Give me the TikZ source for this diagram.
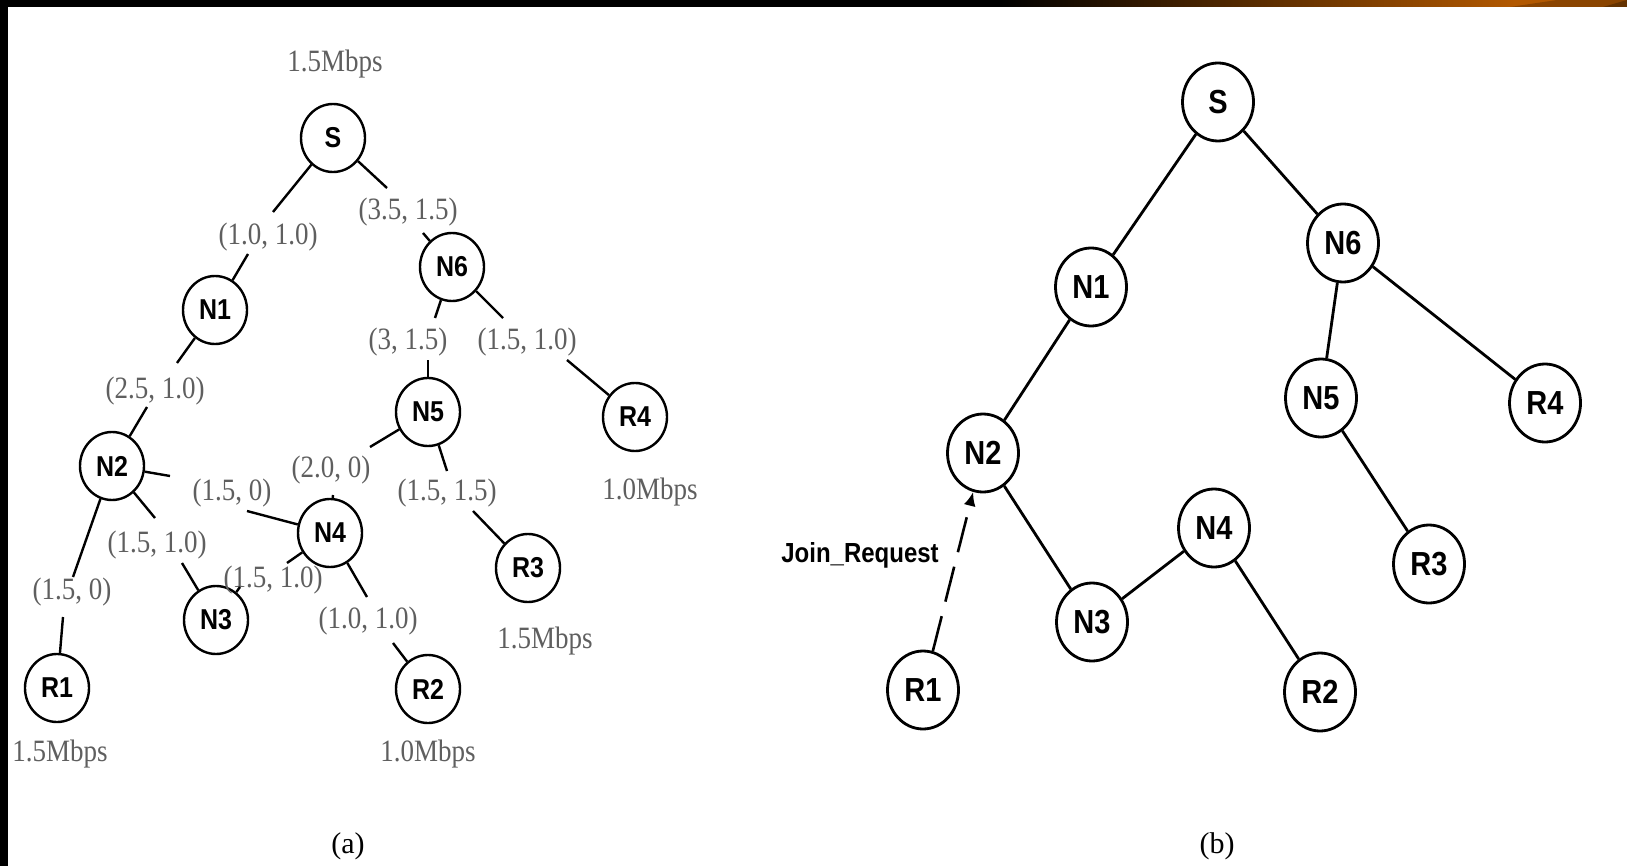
\documentclass[tikz,border=0pt]{standalone}
\usepackage{fontspec}
\setmainfont{Liberation Serif}
\newfontfamily\sansfont{Liberation Sans}
\usepackage{graphicx}
\usetikzlibrary{shapes.geometric,arrows.meta}
\definecolor{lblgray}{RGB}{95,95,95}
\definecolor{barorange}{RGB}{178,88,0}
\definecolor{bardark}{RGB}{138,68,0}
\definecolor{bardarker}{RGB}{100,50,0}
\newcommand{\vstretch}[1]{\scalebox{1}[1.15]{#1}}
\begin{document}
\begin{tikzpicture}[x=0.5pt,y=-0.5pt,
  anode/.style={ellipse,draw,line width=1.2pt,minimum width=32pt,minimum height=34pt,inner sep=0pt,
    font=\sansfont\bfseries\fontsize{12.5pt}{14pt}\selectfont},
  bnode/.style={ellipse,draw,line width=1.4pt,minimum width=35.5pt,minimum height=39pt,inner sep=0pt,
    font=\sansfont\bfseries\fontsize{14.5pt}{16pt}\selectfont},
  aedge/.style={line width=1.2pt},
  bedge/.style={line width=1.4pt},
  elabel/.style={text=lblgray,inner sep=0pt,font=\fontsize{13.5pt}{15pt}\selectfont},
  caption/.style={inner sep=0pt,font=\fontsize{15pt}{17pt}\selectfont}]
\useasboundingbox (0,0) rectangle (1627,866);
\fill[white] (0,0) rectangle (1627,866);
% frame
\fill[black] (0,0) rectangle (8,866);
\fill[black] (0,0) rectangle (1627,7);
\shade[left color=black,right color=barorange] (1000,0) rectangle (1515,7);
\fill[barorange] (1514,0) rectangle (1627,7);
\fill[bardark] (1557,0) -- (1627,0) -- (1627,7) -- (1510,7) -- cycle;
\fill[bardarker] (1627,0) -- (1627,7) -- (1603,7) -- cycle;

% ---------------- panel (a) ----------------
\node[anode] (aS)  at (333,138) {\vstretch{S}};
\node[anode] (aN6) at (452,267) {\vstretch{N6}};
\node[anode] (aN1) at (215,310) {\vstretch{N1}};
\node[anode] (aN5) at (428,412) {\vstretch{N5}};
\node[anode] (aR4) at (635,417) {\vstretch{R4}};
\node[anode] (aN2) at (112,466) {\vstretch{N2}};
\node[anode] (aN4) at (330,533) {\vstretch{N4}};
\node[anode] (aR3) at (528,568) {\vstretch{R3}};
\node[anode] (aN3) at (216,620) {\vstretch{N3}};
\node[anode] (aR1) at (57,688)  {\vstretch{R1}};
\node[anode] (aR2) at (428,689) {\vstretch{R2}};

\node[elabel] (mS)  at (335,64)  {\vstretch{1.5Mbps}};
\node[elabel] (mR4) at (650,492) {\vstretch{1.0Mbps}};
\node[elabel] (mR3) at (545,641) {\vstretch{1.5Mbps}};
\node[elabel] (mR1) at (60,754)  {\vstretch{1.5Mbps}};
\node[elabel] (mR2) at (428,754) {\vstretch{1.0Mbps}};

\node[elabel] (l1)  at (268,237) {\vstretch{(1.0, 1.0)}};
\node[elabel] (l2)  at (408,212) {\vstretch{(3.5, 1.5)}};
\node[elabel] (l3)  at (155,391) {\vstretch{(2.5, 1.0)}};
\node[elabel] (l4)  at (408,342) {\vstretch{(3, 1.5)}};
\node[elabel] (l5)  at (527,342) {\vstretch{(1.5, 1.0)}};
\node[elabel] (l6)  at (331,470) {\vstretch{(2.0, 0)}};
\node[elabel] (l7)  at (447,493) {\vstretch{(1.5, 1.5)}};
\node[elabel] (l8)  at (232,493) {\vstretch{(1.5, 0)}};
\node[elabel] (l9)  at (157,545) {\vstretch{(1.5, 1.0)}};
\node[elabel] (l10) at (273,580) {\vstretch{(1.5, 1.0)}};
\node[elabel] (l11) at (368,621) {\vstretch{(1.0, 1.0)}};
\node[elabel] (l12) at (72,592)  {\vstretch{(1.5, 0)}};

% edge gap ends
\coordinate (e1a) at (273,212);  \coordinate (e1b) at (248,254);
\coordinate (e2a) at (387,188);  \coordinate (e2b) at (423,233);
\coordinate (e3a) at (177,363);  \coordinate (e3b) at (147,407);
\coordinate (e4a) at (435,318);  \coordinate (e4b) at (428,360);
\coordinate (e5a) at (503,318);  \coordinate (e5b) at (567,360);
\coordinate (e6a) at (370,447);  \coordinate (e6b) at (333,495);
\coordinate (e7a) at (447,471);  \coordinate (e7b) at (473,511);
\coordinate (e8a) at (170,476);  \coordinate (e8b) at (247,511);
\coordinate (e9a) at (155,518);  \coordinate (e9b) at (182,563);
\coordinate (e10a) at (73,577);  \coordinate (e10b) at (63,617);
\coordinate (e11a) at (287,563); \coordinate (e11b) at (240,587);
\coordinate (e12a) at (367,597); \coordinate (e12b) at (393,643);

\draw[aedge] (aS) -- (e1a);   \draw[aedge] (e1b) -- (aN1);
\draw[aedge] (aS) -- (e2a);   \draw[aedge] (e2b) -- (aN6);
\draw[aedge] (aN1) -- (e3a);  \draw[aedge] (e3b) -- (aN2);
\draw[aedge] (aN6) -- (e4a);  \draw[aedge] (e4b) -- (aN5);
\draw[aedge] (aN6) -- (e5a);  \draw[aedge] (e5b) -- (aR4);
\draw[aedge] (aN5) -- (e6a);  \draw[aedge] (e6b) -- (aN4);
\draw[aedge] (aN5) -- (e7a);  \draw[aedge] (e7b) -- (aR3);
\draw[aedge] (aN2) -- (e8a);  \draw[aedge] (e8b) -- (aN4);
\draw[aedge] (aN2) -- (e9a);  \draw[aedge] (e9b) -- (aN3);
\draw[aedge] (aN2) -- (e10a); \draw[aedge] (e10b) -- (aR1);
\draw[aedge] (aN4) -- (e11a); \draw[aedge] (e11b) -- (aN3);
\draw[aedge] (aN4) -- (e12a); \draw[aedge] (e12b) -- (aR2);

\node[caption] (capa) at (348,846) {(a)};

% ---------------- panel (b) ----------------
\node[bnode] (bS)  at (1218,102) {\vstretch{S}};
\node[bnode] (bN6) at (1343,243) {\vstretch{N6}};
\node[bnode] (bN1) at (1091,287) {\vstretch{N1}};
\node[bnode] (bN5) at (1321,398) {\vstretch{N5}};
\node[bnode] (bR4) at (1545,403) {\vstretch{R4}};
\node[bnode] (bN2) at (983,453)  {\vstretch{N2}};
\node[bnode] (bN4) at (1214,528) {\vstretch{N4}};
\node[bnode] (bR3) at (1429,564) {\vstretch{R3}};
\node[bnode] (bN3) at (1092,622) {\vstretch{N3}};
\node[bnode] (bR1) at (923,690)  {\vstretch{R1}};
\node[bnode] (bR2) at (1320,692) {\vstretch{R2}};

\draw[bedge] (bS) -- (bN1);
\draw[bedge] (bS) -- (bN6);
\draw[bedge] (bN1) -- (bN2);
\draw[bedge] (bN6) -- (bN5);
\draw[bedge] (bN6) -- (bR4);
\draw[bedge] (bN5) -- (bR3);
\draw[bedge] (bN2) -- (bN3);
\draw[bedge] (bN3) -- (bN4);
\draw[bedge] (bN4) -- (bR2);
\draw[bedge,line width=1.3pt,dash pattern=on 18pt off 7.5pt,-{Latex[length=7pt,width=6pt]}] (bR1) -- (bN2);

\node[inner sep=0pt,font=\sansfont\bfseries\fontsize{12pt}{14pt}\selectfont] (join) at (860,555) {\vstretch{Join\_Request}};

\node[caption] (capb) at (1217,846) {(b)};
\end{tikzpicture}
\end{document}
